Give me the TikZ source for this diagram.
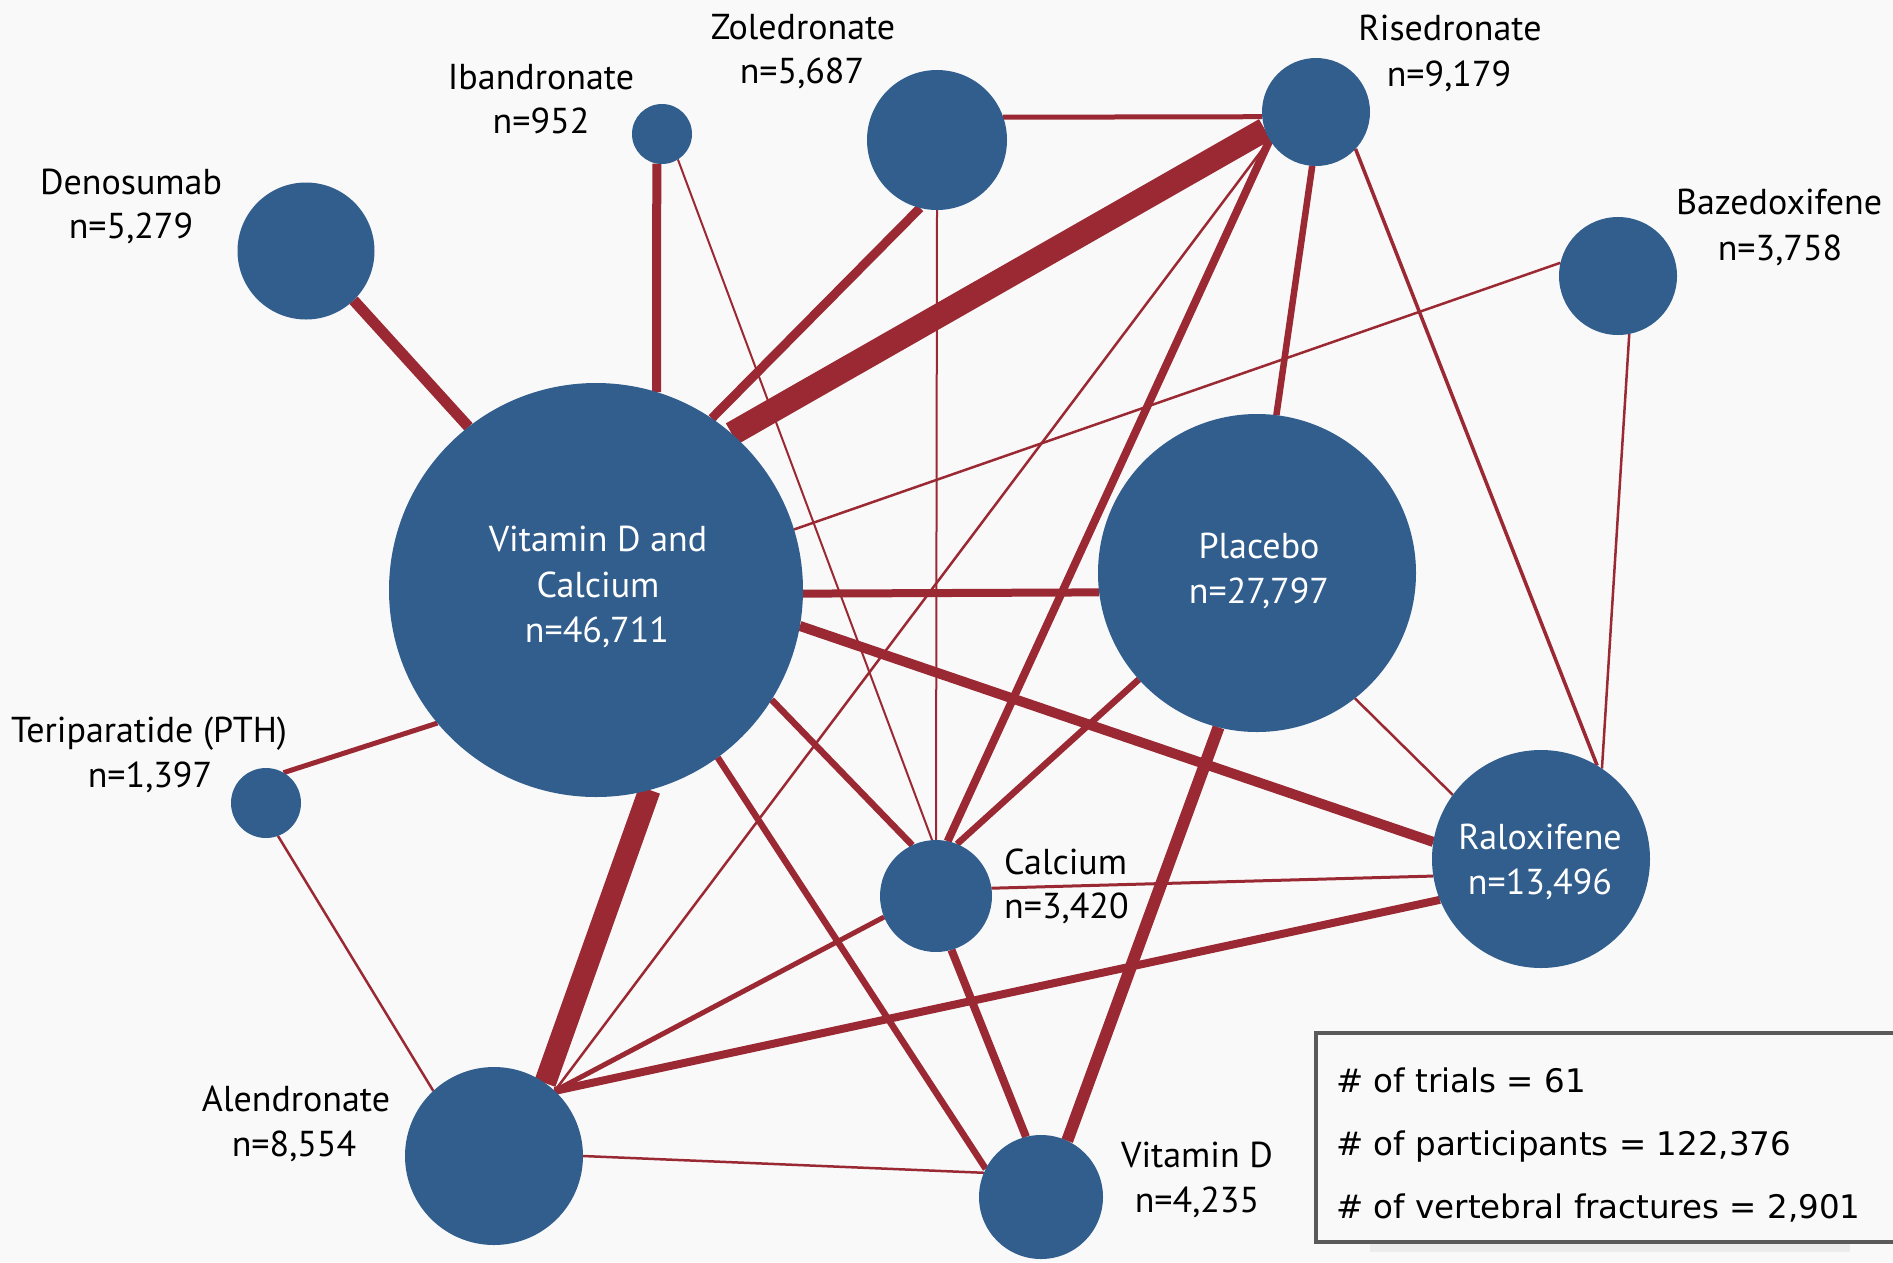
\documentclass[tikz,border=0pt]{standalone}
\usepackage{fontspec}
\setmainfont{PT Sans}
\newfontfamily\legfont{DejaVu Sans}
\usetikzlibrary{backgrounds}
\definecolor{nodeblue}{RGB}{50,94,142}
\definecolor{edgered}{RGB}{155,41,51}
\definecolor{bgcol}{RGB}{249,249,249}
\definecolor{boxgray}{RGB}{90,90,90}
\begin{document}
\begin{tikzpicture}[x=1pt,y=-1pt,
  circ/.style={circle,fill=nodeblue,inner sep=0pt,outer sep=0pt,minimum size=#1pt},
  lab/.style={anchor=base,font=\fontsize{36}{42}\selectfont,inner sep=0pt},
  wlab/.style={lab,text=white},
  leg/.style={anchor=base west,font=\legfont\fontsize{32.5}{40}\selectfont,inner sep=0pt},
  conn/.style={draw=edgered,line width=#1pt}]
\useasboundingbox (0,0) rectangle (1893,1262);

% circles
\node[circ=414] (vdc) at (596,590) {};
\node[circ=318] (pla) at (1257,573) {};
\node[circ=218] (ral) at (1541,859) {};
\node[circ=112] (cal) at (936,896) {};
\node[circ=124] (vitd) at (1041,1197) {};
\node[circ=178] (ale) at (494,1156) {};
\node[circ=70] (ter) at (266,803) {};
\node[circ=137] (den) at (306,251) {};
\node[circ=60] (iba) at (662,134) {};
\node[circ=140] (zol) at (937,140) {};
\node[circ=108] (ris) at (1316,112) {};
\node[circ=118] (baz) at (1618,276) {};

\begin{pgfonlayer}{background}
\fill[bgcol] (0,0) rectangle (1893,1262);
\draw[conn=24] (vdc.49) -- (ris.199);
\draw[conn=22] (vdc.285) -- (ale.55);
\draw[conn=11] (den.314) -- (vdc.128);
\draw[conn=9] (iba.260) -- (vdc.73);
\draw[conn=9] (zol.256) -- (vdc.56);
\draw[conn=5] (zol.19) -- (ris.185);
\draw[conn=2] (iba.302) -- (cal.94);
\draw[conn=2] (zol.270) -- (cal.90);
\draw[conn=8] (ris.211) -- (cal.78);
\draw[conn=2.5] (ris.211) -- (ale.47);
\draw[conn=6.5] (ris.266) -- (pla.83);
\draw[conn=3.5] (ris.317) -- (ral.59);
\draw[conn=2.5] (baz.167) -- (vdc.17);
\draw[conn=2.5] (baz.281) -- (ral.56);
\draw[conn=8] (vdc.359) -- (pla.187);
\draw[conn=10] (vdc.350) -- (ral.171);
\draw[conn=5] (vdc.220) -- (ter.60);
\draw[conn=6.5] (vdc.328) -- (cal.115);
\draw[conn=6.5] (vdc.306) -- (vitd.153);
\draw[conn=6.5] (pla.222) -- (cal.68);
\draw[conn=12] (pla.256) -- (vitd.65);
\draw[conn=2.5] (pla.308) -- (ral.144);
\draw[conn=3] (cal.8) -- (ral.189);
\draw[conn=5] (cal.202) -- (ale.47);
\draw[conn=8] (cal.286) -- (vitd.104);
\draw[conn=8] (ale.47) -- (ral.202);
\draw[conn=2.5] (ale.0) -- (vitd.157);
\draw[conn=2.5] (ter.290) -- (ale.133);
\end{pgfonlayer}

% outside labels
\node[lab] (zolname) at (803,39) {Zoledronate};
\node[lab] (zoln) at (802,83) {n=5,687};
\node[lab] (ibaname) at (541,89) {Ibandronate};
\node[lab] (iban) at (541,133) {n=952};
\node[lab] (denname) at (131,194) {Denosumab};
\node[lab] (denn) at (131,238) {n=5,279};
\node[lab] (tername) at (149,742) {Teriparatide (PTH)};
\node[lab] (tern) at (150,787) {n=1,397};
\node[lab] (alename) at (296,1111) {Alendronate};
\node[lab] (alen) at (294,1156) {n=8,554};
\node[lab,anchor=base west] (calname) at (1004,874) {Calcium};
\node[lab,anchor=base west] (caln) at (1004,918) {n=3,420};
\node[lab] (vitdname) at (1197,1167) {Vitamin D};
\node[lab] (vitdn) at (1197,1212) {n=4,235};
\node[lab] (risname) at (1450,40) {Risedronate};
\node[lab] (risn) at (1449,86) {n=9,179};
\node[lab] (bazname) at (1779,214) {Bazedoxifene};
\node[lab] (bazn) at (1780,260) {n=3,758};

% inside labels
\node[wlab] (vdcl1) at (598,551) {Vitamin D and};
\node[wlab] (vdcl2) at (598,597) {Calcium};
\node[wlab] (vdcl3) at (597,642) {n=46,711};
\node[wlab] (plal1) at (1259,558) {Placebo};
\node[wlab] (plal2) at (1259,603) {n=27,797};
\node[wlab] (rall1) at (1540,849) {Raloxifene};
\node[wlab] (rall2) at (1540,894) {n=13,496};

% legend
\fill[black,opacity=0.05] (1370,1244) rectangle (1850,1252);
\node[draw=boxgray,line width=4pt,fill=bgcol,rectangle,inner sep=0pt,
      minimum width=584pt,minimum height=209pt] (legbox) at (1608,1137.5) {};
\node[leg] (leg1) at (1336,1092) {\# of trials = 61};
\node[leg] (leg2) at (1336,1155) {\# of participants = 122,376};
\node[leg] (leg3) at (1336,1218) {\# of vertebral fractures = 2,901};
\end{tikzpicture}
\end{document}
